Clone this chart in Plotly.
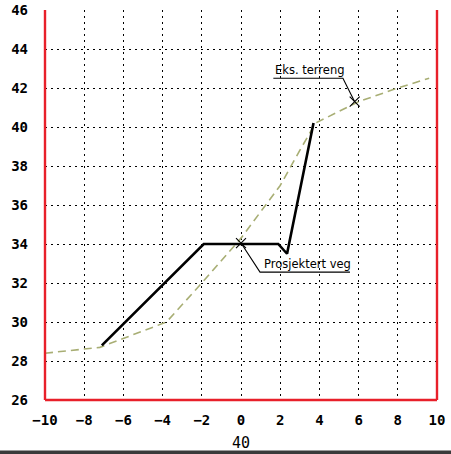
import plotly.graph_objects as go

# Existing terrain (Eks. terreng)
terrain_x = [-10, -7.2, -3.8, -2, 0, 2, 3, 3.8, 6, 8, 9.6]
terrain_y = [28.4, 28.7, 30.0, 32.0, 34.3, 37.0, 38.8, 40.2, 41.3, 42.0, 42.5]

# Projected road (Prosjektert veg)
road_x = [-7.1, -1.9, 1.9, 2.35, 3.7]
road_y = [28.8, 34.0, 34.0, 33.5, 40.2]

# Label crosses
cross_x = [0.0, 5.8]
cross_y = [34.05, 41.3]

# Leader + underline for labels
lead_road_x = [0.0, 0.97, 5.56]
lead_road_y = [34.05, 32.56, 32.56]
lead_terr_x = [5.8, 5.2, 1.65]
lead_terr_y = [41.3, 42.5, 42.5]

label_texts = ["Prosjektert veg", "Eks. terreng"]
label_x = [1.05, 1.65]
label_y = [32.56, 42.5]

x_ticks = [-10, -8, -6, -4, -2, 0, 2, 4, 6, 8, 10]
y_ticks = [26, 28, 30, 32, 34, 36, 38, 40, 42, 44, 46]
station_label = "40"

fig = go.Figure()
fig.add_trace(go.Scatter(x=terrain_x, y=terrain_y, mode="lines",
                         line=dict(color="#a8ae74", width=1.6, dash="8px,5px"),
                         hoverinfo="skip"))
fig.add_trace(go.Scatter(x=road_x, y=road_y, mode="lines",
                         line=dict(color="black", width=2.6), hoverinfo="skip"))
fig.add_trace(go.Scatter(x=lead_road_x, y=lead_road_y, mode="lines",
                         line=dict(color="black", width=1.1), hoverinfo="skip"))
fig.add_trace(go.Scatter(x=lead_terr_x, y=lead_terr_y, mode="lines",
                         line=dict(color="black", width=1.1), hoverinfo="skip"))
fig.add_trace(go.Scatter(x=cross_x, y=cross_y, mode="markers",
                         marker=dict(symbol="x-thin", size=10,
                                     line=dict(color="black", width=1.1)),
                         hoverinfo="skip"))

for t, lx, ly in zip(label_texts, label_x, label_y):
    fig.add_annotation(x=lx, y=ly, text=t, showarrow=False, xanchor="left",
                       yanchor="bottom", yshift=-1,
                       font=dict(family="DejaVu Sans", size=11.5, color="black"))

fig.add_annotation(x=0, y=0, xref="x", yref="paper", text=station_label,
                   showarrow=False, yanchor="top", yshift=-32,
                   font=dict(family="DejaVu Sans Mono", size=15, color="black"))

grid = dict(showgrid=True, gridcolor="black", gridwidth=1.3, griddash="1.5px,4.5px",
            zeroline=False, showline=False, ticks="", automargin=False,
            tickfont=dict(family="DejaVu Sans Mono", size=14, color="black", weight="bold"))

fig.update_xaxes(range=[-10, 10], tickvals=x_ticks, ticklabelstandoff=10, **grid)
fig.update_yaxes(range=[26, 46], tickvals=y_ticks, ticklabelstandoff=16, **grid)

red = dict(color="#e8202a", width=2.4)
fig.add_shape(type="line", xref="paper", yref="paper", x0=0, x1=0, y0=0, y1=1, line=red)
fig.add_shape(type="line", xref="paper", yref="paper", x0=1, x1=1, y0=0, y1=1, line=red)
fig.add_shape(type="line", xref="paper", yref="paper", x0=0, x1=1, y0=0, y1=0, line=red)
# dark scan strip along the bottom edge of the page
fig.add_shape(type="rect", xref="paper", yref="paper",
              x0=-45 / 392, x1=406 / 392, y0=-56 / 390, y1=-50.5 / 390,
              fillcolor="#3a3a3a", line=dict(width=0), layer="above")

fig.update_layout(width=451, height=454, showlegend=False,
                  margin=dict(l=45, r=14, t=10, b=54, autoexpand=False),
                  plot_bgcolor="white", paper_bgcolor="white")

fig.write_html("out.html", config={"displayModeBar": False},
               post_script="document.body.style.margin='0';document.body.style.overflow='hidden';")
